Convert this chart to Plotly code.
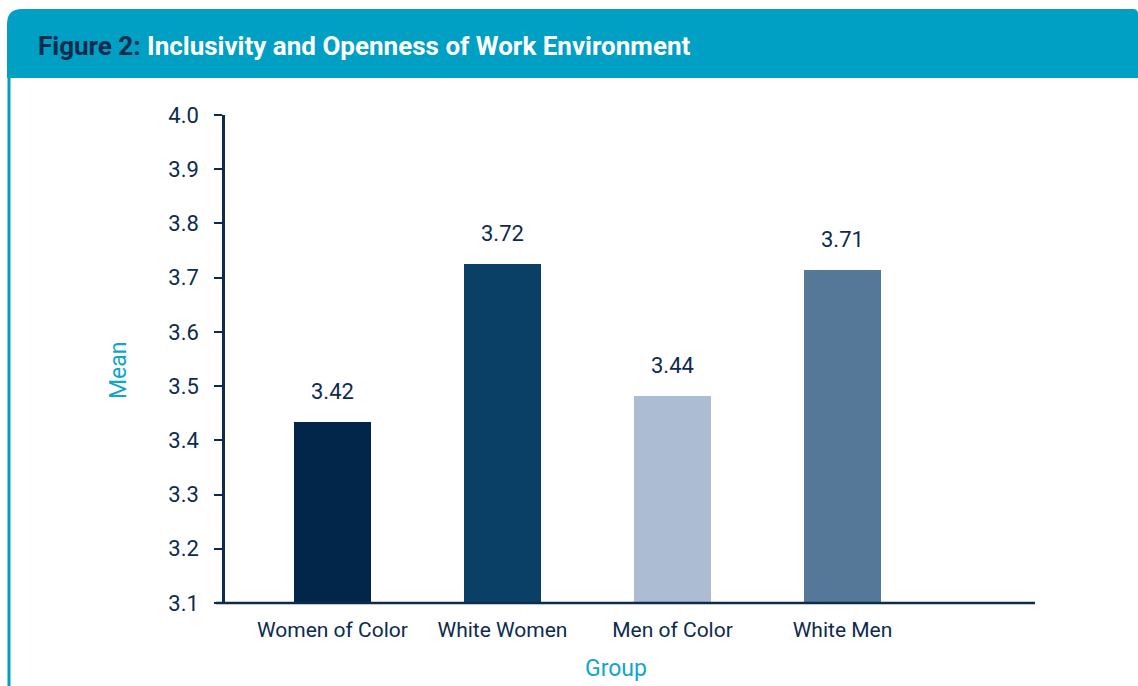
import plotly.graph_objects as go

categories = ["Women of Color", "White Women", "Men of Color", "White Men"]
bar_values = [3.434, 3.725, 3.482, 3.714]
value_labels = ["3.42", "3.72", "3.44", "3.71"]
bar_colors = ["#01264A", "#0A4066", "#ABBCD3", "#567898"]
y_ticks = [3.1, 3.2, 3.3, 3.4, 3.5, 3.6, 3.7, 3.8, 3.9, 4.0]

NAVY = "#0D2B4E"
TEAL = "#009FC4"
TEAL_TXT = "#10A6C9"
FONT = "Roboto, 'Open Sans', sans-serif"

W, H = 1138, 686
L, R, T, B = 225, 103, 115, 83
pw, ph = W - L - R, H - T - B

def px(x):
    return (x - L) / pw

def py(y):
    return (H - B - y) / ph

fig = go.Figure()
fig.add_trace(go.Bar(
    x=categories, y=bar_values, marker=dict(color=bar_colors, line=dict(width=0)),
    width=0.45, hoverinfo="skip", showlegend=False,
))

for c, v, t in zip(categories, bar_values, value_labels):
    fig.add_annotation(x=c, y=v, text=t, showarrow=False, xanchor="center",
                       yanchor="bottom", yshift=16,
                       font=dict(family=FONT, size=22, color=NAVY))

# header band with rounded top corners
x0, x1 = px(7), px(1138)
yt, yb = py(9), py(78)
rx, ry = 15 / pw, 15 / ph
rx2, ry2 = 5 / pw, 5 / ph
path = (f"M {x0},{yb} L {x0},{yt-ry} Q {x0},{yt} {x0+rx},{yt} "
        f"L {x1-rx2},{yt} Q {x1},{yt} {x1},{yt-ry2} L {x1},{yb} Z")
fig.add_shape(type="path", path=path, xref="paper", yref="paper",
              fillcolor=TEAL, line=dict(width=0), layer="below")
# left border
fig.add_shape(type="line", xref="paper", yref="paper", x0=px(9), x1=px(9),
              y0=yb, y1=py(686), line=dict(color=TEAL, width=3))
# x-axis line extending left of the y axis
fig.add_shape(type="line", xref="paper", yref="paper", x0=px(216), x1=1,
              y0=0, y1=0, line=dict(color=NAVY, width=2.5))

fig.add_annotation(xref="paper", yref="paper", x=px(36), y=py(46),
                   xanchor="left", yanchor="middle", showarrow=False,
                   text=f"<b><span style='color:{NAVY}'>Figure 2:</span> Inclusivity and Openness of Work Environment</b>",
                   font=dict(family=FONT, size=26, color="white"))
fig.add_annotation(xref="paper", yref="paper", x=px(118), y=py(370),
                   xanchor="center", yanchor="middle",
                   showarrow=False, text="Mean", textangle=-90,
                   font=dict(family=FONT, size=23, color=TEAL_TXT))
fig.add_annotation(xref="paper", yref="paper", x=px(616), y=py(668),
                   xanchor="center", yanchor="middle",
                   showarrow=False, text="Group",
                   font=dict(family=FONT, size=23, color=TEAL_TXT))

fig.update_layout(
    width=W, height=H, margin=dict(l=L, r=R, t=T, b=B, pad=0),
    paper_bgcolor="white", plot_bgcolor="white", bargap=0,
    font=dict(family=FONT, color=NAVY),
    xaxis=dict(type="category", range=[-0.632, 4.132], showgrid=False,
               showline=False, ticks="", zeroline=False,
               tickfont=dict(family=FONT, size=21, color=NAVY),
               ticklabelstandoff=12),
    yaxis=dict(range=[3.1, 4.0], tickvals=y_ticks,
               ticktext=[f"{v:.1f}" for v in y_ticks],
               showgrid=False, zeroline=False, showline=True,
               linecolor=NAVY, linewidth=2.5, ticks="outside", ticklen=8,
               tickwidth=2, tickcolor=NAVY, ticklabelstandoff=11,
               tickfont=dict(family=FONT, size=22, color=NAVY)),
)

fig.write_html("out.html")
